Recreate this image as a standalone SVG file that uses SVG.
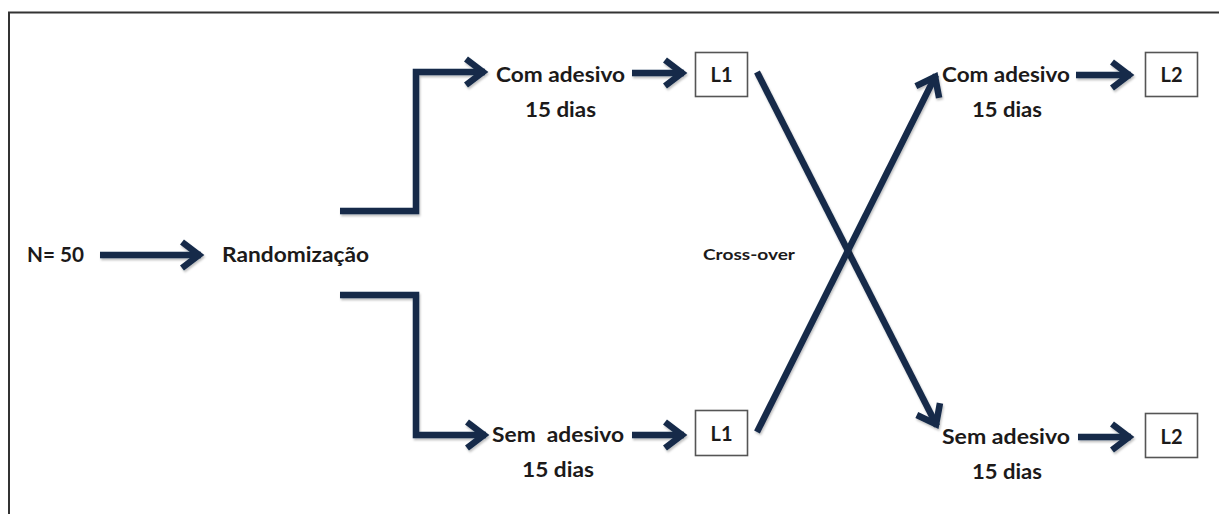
<svg xmlns="http://www.w3.org/2000/svg" width="1219" height="514" viewBox="0 0 1219 514">
<style>
.t{font-family:Lato,"Liberation Sans",sans-serif;font-weight:bold;font-size:20px;fill:#1c1a1a}
.s{font-size:16px}
.c{fill:none;stroke:#142a4a;stroke-width:6.5;stroke-linejoin:miter;filter:url(#sh)}
.b{fill:#fff;stroke:#555;stroke-width:1.6}
</style>
<defs>
<filter id="sh" filterUnits="userSpaceOnUse" x="0" y="0" width="1219" height="514">
<feDropShadow dx="1" dy="2" stdDeviation="1.2" flood-color="#000" flood-opacity="0.25"/>
</filter>
<marker id="ah" markerUnits="userSpaceOnUse" viewBox="-24 -16 28 32" refX="0" refY="0" markerWidth="28" markerHeight="32" orient="auto" overflow="visible">
<path d="M-19,-13 L-2,0 L-19,13" fill="none" stroke="#142a4a" stroke-width="6.5" stroke-linecap="butt" stroke-linejoin="miter"/>
</marker>
</defs>
<rect x="0" y="0" width="1219" height="514" fill="#fff"/>
<rect x="9" y="12.5" width="1230" height="530" fill="none" stroke="#333" stroke-width="2"/>
<g id="connectors">
<line class="c" x1="100" y1="255" x2="201" y2="255" marker-end="url(#ah)"/>
<polyline class="c" points="340,211 416,211 416,72 485,72" marker-end="url(#ah)"/>
<polyline class="c" points="340,295 416,295 416,435 486,435" marker-end="url(#ah)"/>
<line class="c" x1="632" y1="73" x2="684" y2="73" marker-end="url(#ah)"/>
<line class="c" x1="632" y1="435" x2="684" y2="435" marker-end="url(#ah)"/>
<line class="c" x1="757" y1="72" x2="937" y2="426" marker-end="url(#ah)"/>
<line class="c" x1="757" y1="432" x2="936" y2="75" marker-end="url(#ah)"/>
<line class="c" x1="1076" y1="75" x2="1131" y2="75" marker-end="url(#ah)"/>
<line class="c" x1="1078" y1="437" x2="1131" y2="437" marker-end="url(#ah)"/>
</g>
<g id="n50"><text class="t" x="27" y="262" textLength="57" lengthAdjust="spacingAndGlyphs">N= 50</text></g>
<g id="randomizacao"><text class="t" x="222" y="262" textLength="147" lengthAdjust="spacingAndGlyphs">Randomização</text></g>
<g id="com1"><text class="t" x="496" y="82" textLength="129" lengthAdjust="spacingAndGlyphs">Com adesivo</text><text class="t" x="525" y="117" textLength="71" lengthAdjust="spacingAndGlyphs">15 dias</text></g>
<g id="sem1"><text class="t" x="492" y="442" textLength="132" lengthAdjust="spacingAndGlyphs" xml:space="preserve">Sem  adesivo</text><text class="t" x="522" y="477" textLength="72" lengthAdjust="spacingAndGlyphs">15 dias</text></g>
<g id="l1top"><rect class="b" x="695.5" y="52.5" width="52" height="44"/><text class="t" x="721.5" y="82" text-anchor="middle">L1</text></g>
<g id="l1bot"><rect class="b" x="695.5" y="410.5" width="52" height="45"/><text class="t" x="721.5" y="441" text-anchor="middle">L1</text></g>
<g id="crossover"><text class="t s" x="703" y="260" textLength="92" lengthAdjust="spacingAndGlyphs">Cross-over</text></g>
<g id="com2"><text class="t" x="942" y="82" textLength="128" lengthAdjust="spacingAndGlyphs">Com adesivo</text><text class="t" x="972" y="117" textLength="70" lengthAdjust="spacingAndGlyphs">15 dias</text></g>
<g id="sem2"><text class="t" x="942" y="444" textLength="128" lengthAdjust="spacingAndGlyphs">Sem adesivo</text><text class="t" x="972" y="479" textLength="70" lengthAdjust="spacingAndGlyphs">15 dias</text></g>
<g id="l2top"><rect class="b" x="1145.5" y="52.5" width="52" height="44"/><text class="t" x="1171.5" y="82" text-anchor="middle">L2</text></g>
<g id="l2bot"><rect class="b" x="1145.5" y="413.5" width="52" height="44"/><text class="t" x="1171.5" y="444" text-anchor="middle">L2</text></g>
</svg>
